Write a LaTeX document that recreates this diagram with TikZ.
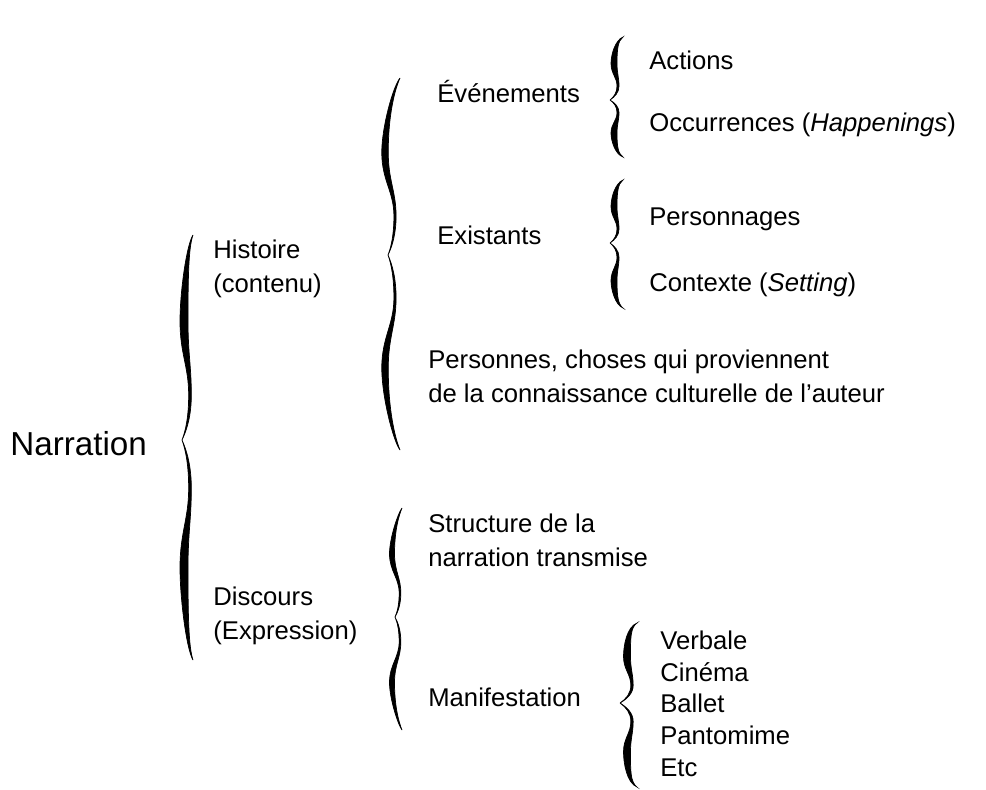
\documentclass[tikz,border=0pt]{standalone}
\usepackage{fontspec}
\setmainfont{Liberation Sans}

% one half of a hand-drawn brace, tip at the origin, end at (#1,#4)
% #1 end offset, #2 hump offset, #3 bulge offset, #4 length, #5 thickness
\newcommand{\bracehalf}[5]{%
  \filldraw[line width=0.4pt] (0,0)
    .. controls ({0.5*#2},{0.05*#4}) and ({#2-#5/6},{0.12*#4}) .. ({#2-#5/6},{0.22*#4})
    .. controls ({#2-#5/6},{0.36*#4}) and ({#3-#5/2},{0.42*#4}) .. ({#3-#5/2},{0.58*#4})
    .. controls ({#3-#5/2},{0.72*#4}) and ({0.4*#1},{0.95*#4}) .. (#1,#4)
    .. controls ({0.6*#1},{0.94*#4}) and ({#3+#5/2},{0.8*#4}) .. ({#3+#5/2},{0.58*#4})
    .. controls ({#3+#5/2},{0.42*#4}) and ({#2+#5/6},{0.36*#4}) .. ({#2+#5/6},{0.22*#4})
    .. controls ({#2+#5/6},{0.12*#4}) and ({0.5*#2+#5/8},{0.05*#4}) .. (0,0) -- cycle;}

% full brace: tip x, tip y, end offset, hump, bulge, upper length, lower length, thickness
\newcommand{\curlybrace}[8]{%
  \begin{scope}[shift={(#1,#2)}, yscale=-1]\bracehalf{#3}{#4}{#5}{#6}{#8}\end{scope}
  \begin{scope}[shift={(#1,#2)}]\bracehalf{#3}{#4}{#5}{#7}{#8}\end{scope}}

\begin{document}
\begin{tikzpicture}[x=0.02cm, y=-0.02cm,
    txt/.style={anchor=base west, inner sep=0pt, font=\fontsize{14.6}{19}\selectfont},
    txtml/.style={txt, align=left},
    root/.style={anchor=base west, inner sep=0pt, font=\fontsize{18.9}{23}\selectfont}]

    \useasboundingbox (0,0) rectangle (986,789);

    % Root (multi-line nodes sit on the baseline of their last line)
    \node[root] (narration) at (10,455) {Narration};
    \curlybrace{182}{440}{11}{8}{2}{205}{220}{8}

    % Histoire branch
    \node[txtml] (histoire) at (213,292) {Histoire\\(contenu)};
    \curlybrace{388}{255}{12}{7}{-3}{177}{195}{6.5}

    \node[txt] (evenements) at (437,102) {Événements};
    \curlybrace{610}{100}{13}{8}{4}{63}{57}{6}
    \node[txt] (actions) at (649,69) {Actions};
    \node[txt] (occurrences) at (649,131) {Occurrences (\textit{Happenings})};

    \node[txt] (existants) at (437,244) {Existants};
    \curlybrace{610}{243}{13}{8}{4}{63}{65}{6}
    \node[txt] (personnages) at (649,225) {Personnages};
    \node[txt] (contexte) at (649,291) {Contexte (\textit{Setting})};

    \node[txtml] (personnes) at (428,402) {Personnes, choses qui proviennent\\de la connaissance culturelle de l’auteur};

    % Discours branch
    \node[txtml] (discours) at (213,639) {Discours\\(Expression)};
    \curlybrace{395}{617}{7}{5}{-3}{109}{113}{5}

    \node[txtml] (structure) at (428,566) {Structure de la\\narration transmise};

    \node[txt] (manifestation) at (428,706) {Manifestation};
    \curlybrace{620}{703}{17}{12}{7}{80}{84}{7}
    \node[txtml, font=\fontsize{14.6}{18}\selectfont] (supports) at (660,776)
        {Verbale\\Cinéma\\Ballet\\Pantomime\\Etc};

\end{tikzpicture}
\end{document}
